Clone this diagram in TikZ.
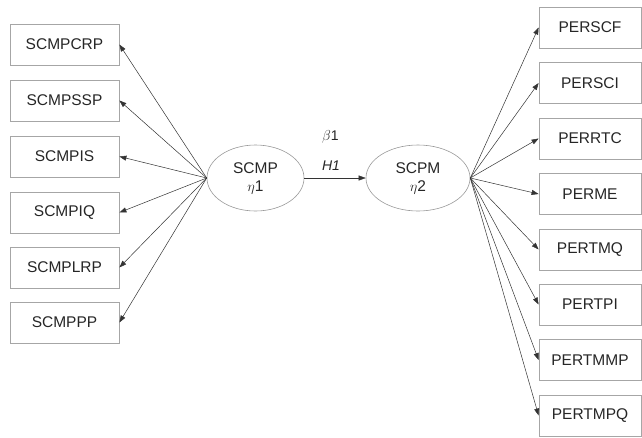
\documentclass[tikz,border=0pt]{standalone}
\usepackage{fontspec}
\setmainfont{Liberation Sans}
\usetikzlibrary{arrows.meta,shapes.geometric}
\begin{document}
\begin{tikzpicture}[x=1pt,y=-1pt,
  every node/.style={font=\fontsize{15.5}{18}\selectfont, text=black!85},
  box/.style={draw=black!35, line width=0.8pt, minimum height=41pt, inner sep=0pt},
  lbox/.style={box, minimum width=109pt},
  rbox/.style={box, minimum width=102pt},
  lat/.style={draw=black!40, line width=0.6pt, ellipse, minimum height=66pt, inner sep=0pt, align=center},
  arr/.style={draw=black!80, line width=0.5pt, -{Triangle[length=7pt,width=5pt]}},
  lab/.style={font=\fontsize{14}{16}\selectfont}
]
\useasboundingbox (0,0) rectangle (642,437);
% latent variables
\node[lat, minimum width=97pt] (scmp) at (255.5,178) {SCMP\\$\eta$1};
\node[lat, minimum width=104pt] (scpm) at (418,178) {SCPM\\$\eta$2};
% left indicators
\node[lbox] (l1) at (64.5,44.5) {SCMPCRP};
\node[lbox] (l2) at (64.5,100.5) {SCMPSSP};
\node[lbox] (l3) at (64.5,156.5) {SCMPIS};
\node[lbox] (l4) at (64.5,212.5) {SCMPIQ};
\node[lbox] (l5) at (64.5,267.5) {SCMPLRP};
\node[lbox] (l6) at (64.5,322.5) {SCMPPP};
% right indicators
\node[rbox] (r1) at (590,27.5) {PERSCF};
\node[rbox] (r2) at (590,83) {PERSCI};
\node[rbox] (r3) at (590,138.5) {PERRTC};
\node[rbox] (r4) at (590,194) {PERME};
\node[rbox] (r5) at (590,249.5) {PERTMQ};
\node[rbox] (r6) at (590,304.5) {PERTPI};
\node[rbox] (r7) at (590,360) {PERTMMP};
\node[rbox] (r8) at (590,415.5) {PERTMPQ};
% labels
\node[lab] (beta) at (330.5,137) {$\beta$1};
\node[lab] (h1) at (331,166) {\itshape H1};
% arrows
\foreach \i in {1,...,6} \draw[arr] (scmp.west) -- (l\i.east);
\foreach \i in {1,...,8} \draw[arr] (scpm.east) -- (r\i.west);
\draw[arr] (scmp.east) -- (scpm.west);
\end{tikzpicture}
\end{document}
